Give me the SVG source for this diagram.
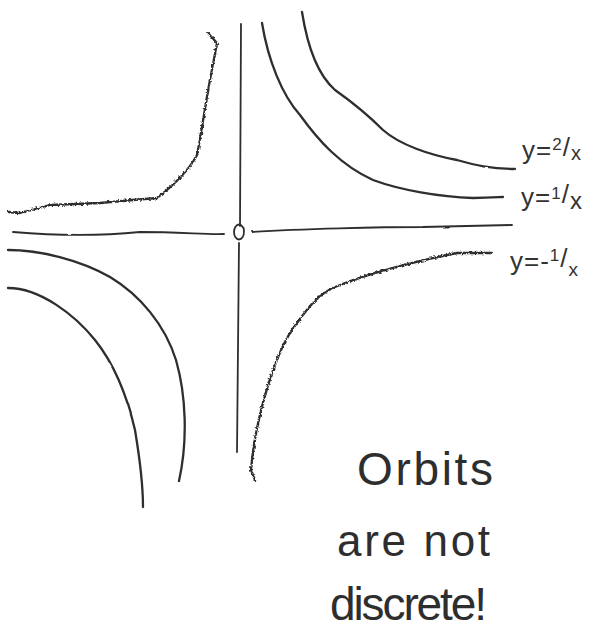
<svg xmlns="http://www.w3.org/2000/svg" width="597" height="633" viewBox="0 0 597 633">
<defs>
<filter id="rough" x="-5%" y="-5%" width="110%" height="110%">
<feTurbulence type="fractalNoise" baseFrequency="0.45" numOctaves="2" seed="4"/>
<feDisplacementMap in="SourceGraphic" scale="3.5" xChannelSelector="R" yChannelSelector="G"/>
</filter>
<filter id="wobble" x="-5%" y="-5%" width="110%" height="110%">
<feTurbulence type="fractalNoise" baseFrequency="0.05" numOctaves="1" seed="2"/>
<feDisplacementMap in="SourceGraphic" scale="2" xChannelSelector="R" yChannelSelector="G"/>
</filter>
</defs>
<style>
.ln{fill:none;stroke:#2e2e2e;stroke-width:2.3;stroke-linecap:round;stroke-linejoin:round}
.ax{fill:none;stroke:#2e2e2e;stroke-width:1.8;stroke-linecap:round}
.lbl{font-family:"Liberation Sans","DejaVu Sans",sans-serif;fill:#333;font-size:26px}
.note{font-family:"Liberation Sans","DejaVu Sans",sans-serif;fill:#2e2e2e;font-weight:normal}
</style>
<rect width="597" height="633" fill="#fff"/>
<g id="axes" filter="url(#wobble)">
<path class="ax" d="M241,24 L240,226"/>
<path class="ax" d="M239,243 L237,452"/>
<path class="ax" d="M13,232 C60,236 100,236 140,232 C180,232 210,235 224,234"/>
<path class="ax" d="M252,232 C300,229 380,227 423,227 L512,225"/>
<ellipse class="ax" cx="239" cy="232" rx="5" ry="7.5"/>
</g>
<g id="curves">
<path id="c-ul" class="ln" filter="url(#rough)" d="M8,212 L20,213 L50,205 L100,203 L133,200 L157,198 C170,188 188,172 197,155 C202,130 206,100 210,80 L217,43 L208,33"/>
<path id="c-2x" class="ln" filter="url(#wobble)" d="M302,12 C308,50 318,75 335,90 C352,102 365,112 383,130 C400,145 430,155 457,160 C475,165 490,169 515,169"/>
<path id="c-1x" class="ln" filter="url(#wobble)" d="M262,23 C268,60 282,95 300,115 C318,140 340,165 373,180 C400,190 440,197 473,198 C490,198 500,197 503,197"/>
<path id="c-m1x" class="ln" filter="url(#rough)" d="M255,480 L251,470 C255,420 275,350 297,323 C310,305 320,292 340,285 C370,273 420,260 457,253 L491,253"/>
<path id="c-ll1" class="ln" filter="url(#wobble)" d="M8,250 C40,250 80,260 110,277 C140,295 165,325 176,360 C186,395 188,440 179,481"/>
<path id="c-ll2" class="ln" filter="url(#wobble)" d="M8,288 C40,288 75,315 95,340 C115,365 128,400 135,430 C140,460 143,490 143,507"/>
</g>
<g id="labels">
<text class="lbl" x="522" y="159" letter-spacing="1">y=<tspan dy="-9" font-size="17">2</tspan><tspan dy="6">/</tspan><tspan dy="4" font-size="20">x</tspan></text>
<text class="lbl" x="521" y="206" letter-spacing="1">y=<tspan dy="-7" font-size="17">1</tspan><tspan dy="4">/</tspan><tspan dy="6" font-size="24">x</tspan></text>
<text class="lbl" x="510" y="270" letter-spacing="1">y=-<tspan dy="-9" font-size="17">1</tspan><tspan dy="6">/</tspan><tspan dy="9" font-size="19">x</tspan></text>
</g>
<g id="note">
<text class="note" x="357" y="485" font-size="46" textLength="136" lengthAdjust="spacing">Orbits</text>
<text class="note" x="337" y="556" font-size="44" textLength="153" lengthAdjust="spacing">are not</text>
<text class="note" x="330" y="620" font-size="46" textLength="157" lengthAdjust="spacing">discrete!</text>
</g>
</svg>
